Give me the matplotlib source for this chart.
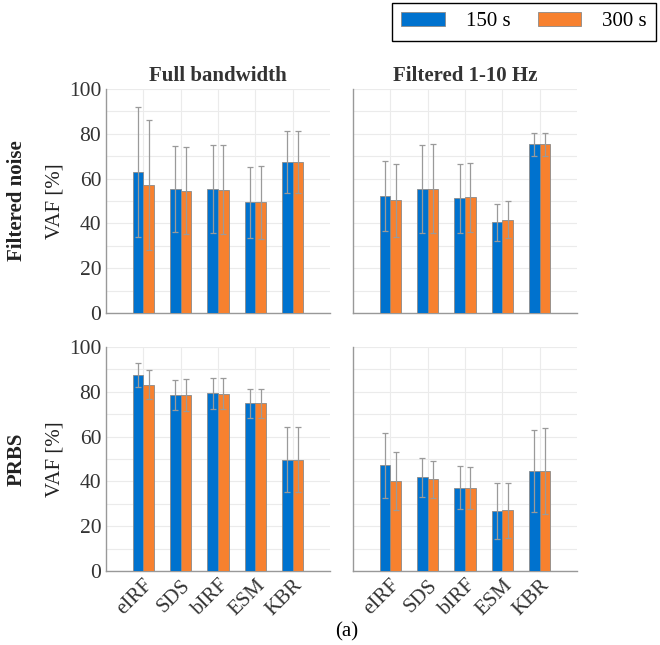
import numpy as np
import matplotlib
matplotlib.use('Agg')
import matplotlib.pyplot as plt
from matplotlib.ticker import MultipleLocator

methods = ["eIRF", "SDS", "bIRF", "ESM", "KBR"]
durations = ["150 s", "300 s"]
col_titles = ["Full bandwidth", "Filtered 1-10 Hz"]
row_titles = ["Filtered noise", "PRBS"]

# mean VAF [%] and half-width of error bars, per panel: [150 s, 300 s]
noise_full_mean = [[62.8, 55.4, 55.4, 49.4, 67.4], [57.3, 54.6, 55.1, 49.4, 67.4]]
noise_full_err = [[29.0, 19.1, 19.7, 15.8, 13.7], [29.0, 19.4, 19.9, 16.2, 13.9]]
noise_filt_mean = [[52.1, 55.5, 51.2, 40.5, 75.3], [50.3, 55.5, 51.6, 41.7, 75.3]]
noise_filt_err = [[15.7, 19.7, 15.3, 8.2, 5.1], [16.2, 20.0, 15.3, 8.2, 5.0]]
prbs_full_mean = [[87.4, 78.7, 79.3, 74.9, 49.7], [83.2, 78.7, 79.2, 74.9, 49.7]]
prbs_full_err = [[5.3, 6.7, 7.0, 6.4, 14.4], [6.6, 7.1, 7.0, 6.4, 14.6]]
prbs_filt_mean = [[47.3, 41.8, 37.2, 26.9, 44.6], [40.3, 40.9, 37.2, 27.2, 44.6]]
prbs_filt_err = [[14.5, 8.8, 9.5, 12.5, 18.4], [13.0, 8.3, 9.3, 12.3, 19.2]]

panels = [[(noise_full_mean, noise_full_err), (noise_filt_mean, noise_filt_err)],
          [(prbs_full_mean, prbs_full_err), (prbs_filt_mean, prbs_filt_err)]]

colors = ["#0072CE", "#F7812F"]
plt.rcParams['font.family'] = ['Liberation Serif', 'DejaVu Serif']
fs = 15

fig = plt.figure(figsize=(6.6, 6.45), dpi=100)

W, H = 660.0, 645.0
lefts = [106, 353]
tops = [89, 347]
aw, ah = 224, 224
bw = 0.286
x = np.arange(1, len(methods) + 1)

for r in range(2):
    for c in range(2):
        ax = fig.add_axes([lefts[c] / W, (H - tops[r] - ah) / H, aw / W, ah / H])
        means, errs = panels[r][c]
        for k in range(2):
            off = (k - 0.5) * bw
            ax.bar(x + off, means[k], bw, color=colors[k], edgecolor="#8a8a8a",
                   linewidth=0.6, zorder=3, label=durations[k])
            ax.errorbar(x + off, means[k], yerr=errs[k], fmt='none', ecolor="#9a9a9a",
                        elinewidth=0.9, capsize=2, capthick=0.9, zorder=4)
        ax.set_xlim(0, 6)
        ax.set_ylim(0, 100)
        ax.yaxis.set_major_locator(MultipleLocator(20))
        ax.yaxis.set_minor_locator(MultipleLocator(10))
        ax.set_xticks(x)
        ax.grid(True, which='both', color="#ebebeb", linewidth=0.8, zorder=0)
        ax.tick_params(length=0, which='both', colors="#333333", labelsize=fs + 0.5)
        for s in ["top", "right"]:
            ax.spines[s].set_visible(False)
        for s in ["left", "bottom"]:
            ax.spines[s].set_color("#999999")
            ax.spines[s].set_linewidth(1.0)
        if c == 0:
            ax.set_ylabel("VAF [%]", fontsize=fs, color="#222222", labelpad=3)
        else:
            ax.set_yticklabels([])
        if r == 1:
            ax.set_xticklabels(methods, rotation=45, ha='right', rotation_mode='anchor',
                               fontsize=fs)
        else:
            ax.set_xticklabels([])
            ax.set_title(col_titles[c], fontsize=fs, fontweight='bold', color="#333333", pad=6)
        if c == 0:
            fig.text(17 / W, 1 - (tops[r] + ah / 2) / H, row_titles[r], rotation=90,
                     ha='center', va='center', fontsize=fs, fontweight='bold', color="#222222")
        if r == 0 and c == 1:
            handles, labels = ax.get_legend_handles_labels()

fig.legend(handles, labels, ncol=2, loc='upper left', bbox_to_anchor=(392 / W, 1 - 3 / H),
           frameon=True, fancybox=False, edgecolor='black', fontsize=fs,
           handlelength=2.1, handleheight=0.6, columnspacing=1.3, borderpad=0.45,
           handletextpad=1.0, borderaxespad=0, framealpha=1)

fig.text(347 / W, 1 - 632 / H, "(a)", ha='center', va='center', fontsize=fs)

fig.savefig("out.png", dpi=100)
